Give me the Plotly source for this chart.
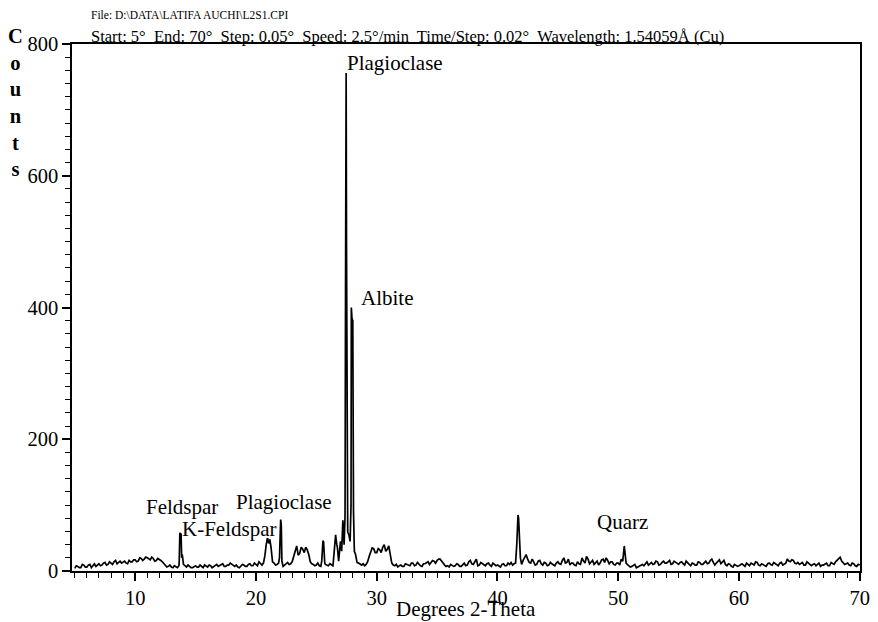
import numpy as np
import plotly.graph_objects as go

# Background scan read on a 0.25 deg grid starting at 5 deg (4 values per degree)
grid_start = 5.0
grid_step = 0.25
background_counts = [
    4, 7, 5, 9,      # 5
    6, 10, 8, 7,     # 6
    11, 9, 13, 10,   # 7
    12, 14, 11, 15,  # 8
    13, 12, 16, 14,  # 9
    17, 15, 19, 18,  # 10
    20, 17, 19, 16,  # 11
    18, 14, 9, 7,    # 12
    6, 8, 5, 55,     # 13
    10, 6, 7, 5,     # 14
    8, 6, 7, 9,      # 15
    6, 8, 7, 10,     # 16
    8, 11, 7, 9,     # 17
    10, 7, 6, 8,     # 18
    9, 7, 11, 8,     # 19
    10, 14, 9, 24,   # 20
    48, 36, 12, 10,  # 21
    60, 7, 12, 10,   # 22
    14, 30, 24, 36,  # 23
    28, 32, 14, 10,  # 24
    9, 8, 40, 10,    # 25
    8, 10, 30, 35,   # 26
    45, 60, 500, 50, # 27
    380, 25, 12, 9,  # 28
    8, 14, 30, 34,   # 29
    28, 32, 36, 30,  # 30
    38, 12, 8, 6,    # 31
    9, 7, 10, 8,     # 32
    12, 9, 10, 7,    # 33
    11, 14, 13, 15,  # 34
    16, 18, 12, 7,   # 35
    6, 9, 8, 10,     # 36
    7, 12, 9, 16,    # 37
    10, 18, 9, 11,   # 38
    8, 12, 7, 10,    # 39
    9, 6, 11, 8,     # 40
    10, 9, 12, 80,   # 41
    10, 22, 18, 12,  # 42
    14, 10, 16, 9,   # 43
    12, 9, 11, 8,    # 44
    14, 10, 20, 13,  # 45
    9, 12, 8, 11,    # 46
    20, 12, 18, 14,  # 47
    10, 15, 12, 18,  # 48
    20, 11, 14, 9,   # 49
    12, 18, 38, 10,  # 50
    6, 8, 5, 7,      # 51
    10, 12, 9, 13,   # 52
    11, 14, 10, 15,  # 53
    12, 16, 11, 13,  # 54
    10, 14, 9, 12,   # 55
    8, 11, 9, 13,    # 56
    10, 15, 12, 18,  # 57
    9, 14, 11, 16,   # 58
    8, 10, 6, 9,     # 59
    8, 11, 7, 10,    # 60
    12, 9, 13, 8,    # 61
    10, 7, 12, 9,    # 62
    11, 8, 13, 10,   # 63
    18, 14, 16, 11,  # 64
    10, 13, 9, 12,   # 65
    8, 11, 10, 7,    # 66
    9, 12, 8, 11,    # 67
    14, 19, 15, 10,  # 68
    12, 8, 11, 7,    # 69
    9,               # 70
]

# Intermediate readings at the .125/.375/.625/.875 positions of each degree
offset_start = 5.125
offset_counts = [
    8, 5, 10, 6,     # 5
    9, 5, 11, 9,     # 6
    8, 12, 9, 14,    # 7
    10, 16, 13, 12,  # 8
    15, 11, 14, 17,  # 9
    14, 20, 16, 21,  # 10
    18, 21, 15, 19,  # 11
    16, 11, 6, 9,    # 12
    5, 7, 8, 22,     # 13
    8, 9, 5, 7,      # 14
    6, 9, 5, 8,      # 15
    9, 5, 9, 7,      # 16
    10, 7, 9, 12,    # 17
    8, 9, 5, 10,     # 18
    7, 10, 8, 12,    # 19
    8, 11, 12, 45,   # 20
    44, 14, 9, 12,   # 21
    40, 9, 13, 11,   # 22
    22, 38, 27, 33,  # 23
    36, 25, 11, 8,   # 24
    12, 7, 30, 9,    # 25
    11, 8, 50, 20,   # 26
    50, 80, 58, 100, # 27
    50, 13, 10, 11,  # 28
    10, 22, 35, 28,  # 29
    34, 28, 40, 33,  # 30
    25, 9, 10, 8,    # 31
    7, 11, 8, 12,    # 32
    8, 13, 8, 11,    # 33
    13, 10, 16, 12,  # 34
    18, 14, 9, 8,    # 35
    10, 7, 11, 7,    # 36
    10, 8, 14, 11,   # 37
    14, 8, 13, 9,    # 38
    11, 9, 12, 8,    # 39
    7, 10, 8, 12,    # 40
    13, 11, 60, 30,  # 41
    16, 25, 13, 18,  # 42
    9, 15, 11, 13,   # 43
    8, 13, 10, 12,   # 44
    11, 16, 12, 18,  # 45
    12, 9, 14, 10,   # 46
    15, 22, 11, 16,  # 47
    13, 9, 17, 13,   # 48
    16, 14, 10, 12,  # 49
    9, 15, 18, 8,    # 50
    7, 10, 6, 9,     # 51
    8, 14, 11, 10,   # 52
    15, 9, 13, 12,   # 53
    14, 10, 15, 11,  # 54
    13, 11, 15, 10,  # 55
    12, 9, 14, 10,   # 56
    13, 11, 16, 13,  # 57
    12, 17, 13, 10,  # 58
    11, 7, 10, 7,    # 59
    10, 9, 12, 8,    # 60
    10, 14, 9, 11,   # 61
    8, 11, 10, 13,   # 62
    9, 12, 9, 12,    # 63
    15, 17, 12, 13,  # 64
    12, 9, 14, 10,   # 65
    10, 8, 12, 9,    # 66
    11, 8, 13, 10,   # 67
    16, 21, 12, 11,  # 68
    9, 12, 8, 10,    # 69
]

# Sharp reflections read at finer steps
peak_theta = [
    13.65, 13.7, 13.8, 13.85, 13.9,
    20.85, 20.95, 21.05, 21.15, 21.3,
    21.95, 22.05, 22.1, 22.15,
    25.45, 25.55, 25.6, 25.7,
    26.4, 26.6, 26.7, 26.85, 26.9, 27.1, 27.2, 27.3, 27.38,
    27.42, 27.47, 27.53, 27.6, 27.7, 27.8, 27.9, 27.95, 28.02, 28.08, 28.15, 28.35,
    41.6, 41.7, 41.8, 41.9,
    50.45, 50.55, 50.65,
]
peak_counts = [
    15, 58, 57, 20, 25,
    40, 50, 42, 48, 20,
    20, 78, 70, 15,
    15, 46, 44, 12,
    12, 55, 40, 15, 25, 30, 77, 40, 90,
    426, 756, 200, 60, 55, 45, 400, 385, 380, 90, 30, 15,
    40, 85, 45, 20,
    25, 30, 12,
]

grid_theta = grid_start + grid_step * np.arange(len(background_counts))
offset_theta = offset_start + grid_step * np.arange(len(offset_counts))
theta = np.concatenate([grid_theta, offset_theta, np.array(peak_theta)])
counts = np.concatenate([np.array(background_counts), np.array(offset_counts), np.array(peak_counts)])
order = np.argsort(theta, kind="stable")
theta = theta[order]
counts = counts[order]

x_tick_vals = [10, 20, 30, 40, 50, 60, 70]
y_tick_vals = [0, 200, 400, 600, 800]

# phase labels: text, left edge (deg), vertical centre (counts)
labels = [
    ("Plagioclase", 27.35, 771),
    ("Albite", 28.55, 415),
    ("Feldspar", 10.74, 97),
    ("K-Feldspar", 13.7, 64),
    ("Plagioclase", 18.2, 105),
    ("Quarz", 48.1, 74),
]

serif = "Liberation Serif"
lab_size = 21
tick_size = 20.5

fig = go.Figure()
fig.add_trace(go.Scatter(x=theta, y=counts, mode="lines",
                         line=dict(color="black", width=1.7), hoverinfo="skip"))

fig.update_layout(
    width=878, height=622,
    margin=dict(l=72, r=8, t=44, b=51),
    paper_bgcolor="white", plot_bgcolor="white",
    showlegend=False,
)
fig.update_xaxes(
    range=[4.77, 70.02], tickvals=x_tick_vals, ticks="outside", ticklen=8, tickwidth=1.5,
    tickcolor="black", showline=True, linecolor="black", linewidth=1.5, mirror=True,
    showgrid=False, zeroline=False, ticklabeloverflow="allow",
    tickfont=dict(family=serif, size=tick_size, color="black"),
    minor=dict(dtick=1, ticks="outside", ticklen=5, tickwidth=1.2, tickcolor="black"),
)
fig.update_yaxes(
    range=[0, 800], tickvals=y_tick_vals, ticks="outside", ticklen=8, tickwidth=1.5,
    tickcolor="black", showline=True, linecolor="black", linewidth=1.5, mirror=True,
    showgrid=False, zeroline=False, tickfont=dict(family=serif, size=tick_size, color="black"),
    minor=dict(dtick=20, ticks="outside", ticklen=5, tickwidth=1.2, tickcolor="black"),
)

for text, xv, yv in labels:
    fig.add_annotation(x=xv, y=yv, text=text, showarrow=False, xanchor="left",
                       yanchor="middle", font=dict(family=serif, size=lab_size, color="black"))

fig.add_annotation(xref="paper", yref="paper", x=0.5, y=0, xanchor="center", yanchor="middle",
                   text="Degrees 2-Theta", showarrow=False, yshift=-38,
                   font=dict(family=serif, size=lab_size, color="black"))
fig.add_annotation(xref="paper", yref="paper", x=0, y=1, xanchor="center", yanchor="top",
                   text="<b>C<br>o<br>u<br>n<br>t<br>s</b>", showarrow=False, xshift=-57, yshift=21,
                   align="center", font=dict(family=serif, size=20.5, color="black"))
fig.add_annotation(xref="paper", yref="paper", x=0, y=1, xanchor="left", yanchor="middle",
                   text="File: D:\\DATA\\LATIFA AUCHI\\L2S1.CPI",
                   showarrow=False, xshift=17, yshift=29, align="left",
                   font=dict(family=serif, size=11.5, color="black"))
fig.add_annotation(xref="paper", yref="paper", x=0, y=1, xanchor="left", yanchor="middle",
                   text="Start: 5°&nbsp; End: 70°&nbsp; Step: 0.05°&nbsp; Speed: 2.5°/min&nbsp; "
                        "Time/Step: 0.02°&nbsp; Wavelength: 1.54059Å (Cu)",
                   showarrow=False, xshift=17, yshift=8, align="left",
                   font=dict(family=serif, size=16.5, color="black"))

fig.write_html("out.html")
